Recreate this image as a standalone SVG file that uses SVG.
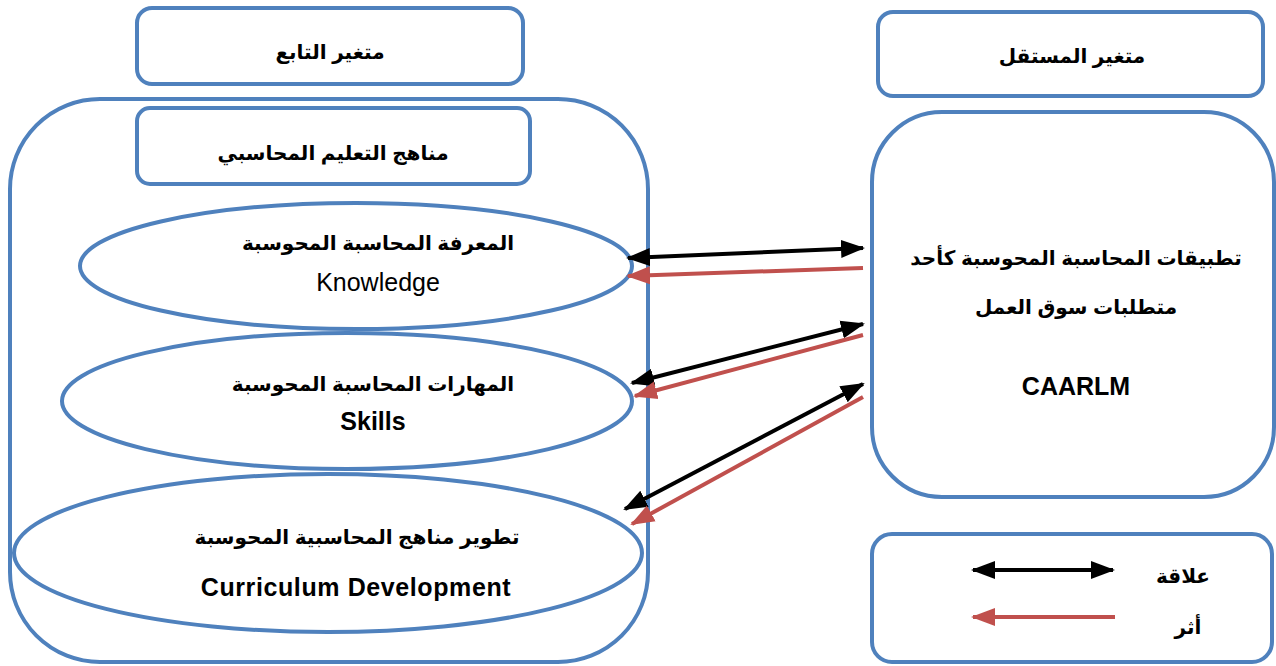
<svg xmlns="http://www.w3.org/2000/svg" width="1276" height="666" viewBox="0 0 1276 666">
  <style>
    .box { fill: #fff; stroke: #4F81BD; stroke-width: 4; }
    .ell { fill: #fff; stroke: #4F81BD; stroke-width: 4; }
    .ar { font-family: "Liberation Sans", "DejaVu Sans", sans-serif; font-weight: bold; font-size: 20px; fill: #000; text-anchor: middle; direction: rtl; }
    .en { font-family: "Liberation Sans", Arial, sans-serif; font-size: 25px; fill: #000; text-anchor: middle; }
    .enb { font-weight: bold; }
    .rel { stroke: #000; stroke-width: 4; fill: none; marker-start: url(#headBlack); marker-end: url(#headBlack); }
    .eff { stroke: #C0504D; stroke-width: 4; fill: none; marker-end: url(#headRed); }
  </style>
  <defs>
    <marker id="headBlack" markerUnits="userSpaceOnUse" markerWidth="24" markerHeight="20" viewBox="0 0 24 20" refX="22" refY="10" orient="auto-start-reverse">
      <path d="M0,1 L24,10 L0,19 z" fill="#000"/>
    </marker>
    <marker id="headRed" markerUnits="userSpaceOnUse" markerWidth="24" markerHeight="20" viewBox="0 0 24 20" refX="22" refY="10" orient="auto">
      <path d="M0,1 L24,10 L0,19 z" fill="#C0504D"/>
    </marker>
  </defs>

  <rect width="1276" height="666" fill="#fff"/>

  <!-- dependent variable header -->
  <g id="dependent-header">
    <rect class="box" x="137" y="8" width="386" height="76" rx="15"/>
    <text class="ar" x="330" y="59">متغير التابع</text>
  </g>

  <!-- independent variable header -->
  <g id="independent-header">
    <rect class="box" x="878" y="12" width="385" height="84" rx="15"/>
    <text class="ar" x="1072" y="63">متغير المستقل</text>
  </g>

  <!-- curricula container -->
  <g id="curricula">
    <rect class="box" x="10" y="99" width="638" height="563" rx="90"/>
    <rect class="box" x="137" y="108" width="393" height="76" rx="13"/>
    <text class="ar" x="333" y="160">مناهج التعليم المحاسبي</text>
  </g>

  <g id="knowledge">
    <ellipse class="ell" cx="356" cy="266" rx="276" ry="63"/>
    <text class="ar" x="378" y="250">المعرفة المحاسبة المحوسبة</text>
    <text class="en" x="378" y="291">Knowledge</text>
  </g>

  <g id="skills">
    <ellipse class="ell" cx="347" cy="401" rx="285" ry="68"/>
    <text class="ar" x="373" y="391">المهارات المحاسبة المحوسبة</text>
    <text class="en enb" x="373" y="430">Skills</text>
  </g>

  <g id="development">
    <ellipse class="ell" cx="328" cy="553" rx="314" ry="79"/>
    <text class="ar" x="357" y="544">تطوير مناهج المحاسبية المحوسبة</text>
    <text class="en enb" x="356" y="596" letter-spacing="0.6">Curriculum Development</text>
  </g>

  <!-- independent variable -->
  <g id="caarlm">
    <rect class="box" x="872" y="112" width="402" height="385" rx="70"/>
    <text class="ar" x="1076" y="265">تطبيقات المحاسبة المحوسبة كأحد</text>
    <text class="ar" x="1076" y="314">متطلبات سوق العمل</text>
    <text class="en enb" x="1076" y="395">CAARLM</text>
  </g>

  <!-- legend -->
  <g id="legend">
    <rect class="box" x="872" y="534" width="400" height="128" rx="20"/>
    <line class="rel" x1="973" y1="570" x2="1113" y2="570"/>
    <line class="eff" x1="1115" y1="617" x2="973" y2="617"/>
    <text class="ar" x="1183" y="583">علاقة</text>
    <text class="ar" x="1188" y="634">أثر</text>
  </g>

  <!-- connectors -->
  <g id="connectors">
    <line class="rel" x1="628" y1="258" x2="863" y2="248"/>
    <line class="eff" x1="863" y1="268" x2="628" y2="276"/>
    <line class="rel" x1="632" y1="383" x2="863" y2="324"/>
    <line class="eff" x1="863" y1="335" x2="635" y2="396"/>
    <line class="rel" x1="625" y1="509" x2="863" y2="384"/>
    <line class="eff" x1="863" y1="397" x2="632" y2="524"/>
  </g>
</svg>
